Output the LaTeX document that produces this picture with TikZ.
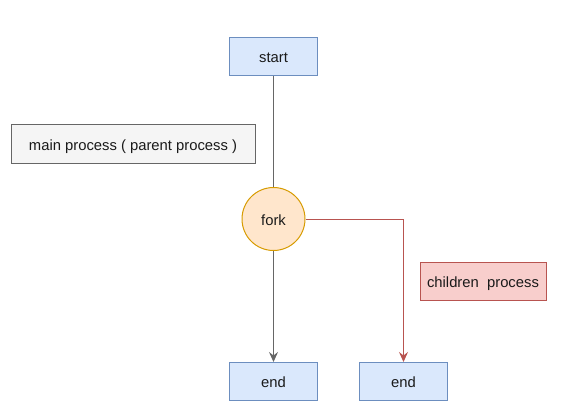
\documentclass[tikz,border=0pt]{standalone}
\usepackage{fontspec}
\setmainfont{Liberation Sans}
\usetikzlibrary{arrows.meta}
\definecolor{bfill}{HTML}{DAE8FC}\definecolor{bdraw}{HTML}{6C8EBF}
\definecolor{gfill}{HTML}{F5F5F5}\definecolor{gdraw}{HTML}{666666}
\definecolor{ofill}{HTML}{FFE6CC}\definecolor{odraw}{HTML}{D79B00}
\definecolor{rfill}{HTML}{F8CECC}\definecolor{rdraw}{HTML}{B85450}
\definecolor{txt}{HTML}{1A1A1A}
\begin{document}
\begin{tikzpicture}[x=1pt,y=-1pt,line width=1pt,
  every node/.style={font=\fontsize{14.8}{17}\selectfont,text=txt,inner sep=0pt,text height=14pt,text depth=2pt},
  blue box/.style={draw=bdraw,fill=bfill,minimum width=88pt,minimum height=38pt},
  gray box/.style={draw=gdraw,fill=gfill,minimum width=244pt,minimum height=38pt},
  red box/.style={draw=rdraw,fill=rfill,minimum width=126pt,minimum height=38pt},
  fork circ/.style={circle,draw=odraw,fill=ofill,minimum size=63pt},
  gray line/.style={draw=gdraw},
  red line/.style={draw=rdraw},
  tip/.style={-{Stealth[length=10pt,width=9pt,inset=3.5pt]}}]
\useasboundingbox (0,0) rectangle (571,412);
\node[blue box] (start) at (273.5,56.5) {start};
\node[gray box] (main) at (133,144) {main process ( parent process )};
\node[fork circ] (fork) at (273.5,219) {fork};
\node[red box] (child) at (483,281.5) {children\ \ process};
\node[blue box] (end1) at (273.5,381.5) {end};
\node[blue box] (end2) at (403.5,381.5) {end};
\draw[gray line] (start) -- (fork);
\draw[gray line,tip] (fork) -- (end1);
\draw[red line,tip] (fork.east) -| (end2.north);
\end{tikzpicture}
\end{document}
